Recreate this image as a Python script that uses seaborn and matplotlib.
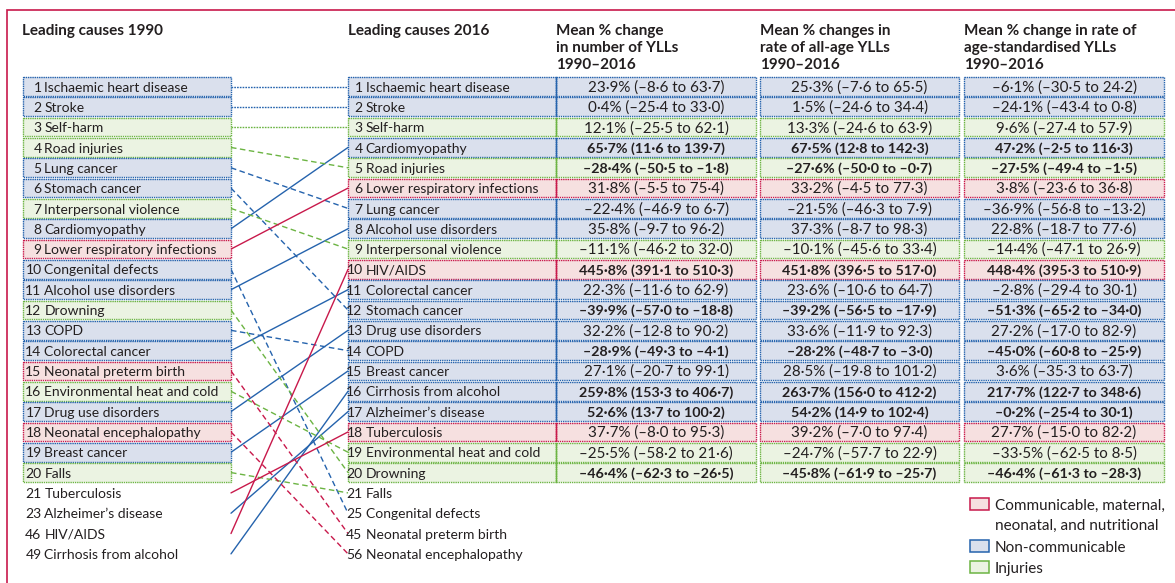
##
## Leading causes of YLLs, 1990 vs 2016, with mean % change columns
##
import numpy as np
import pandas as pd
import matplotlib.pyplot as plt
from matplotlib.patches import Rectangle
from matplotlib.lines import Line2D
from matplotlib import font_manager
import seaborn as sns

sns.set_theme(style='white')
available = {f.name for f in font_manager.fontManager.ttflist}
FONT = 'Lato' if 'Lato' in available else 'DejaVu Sans'
plt.rcParams['font.family'] = [FONT, 'DejaVu Sans']

# ---- data ----
causes_1990 = ['Ischaemic heart disease', 'Stroke', 'Self-harm', 'Road injuries', 'Lung cancer',
               'Stomach cancer', 'Interpersonal violence', 'Cardiomyopathy',
               'Lower respiratory infections', 'Congenital defects', 'Alcohol use disorders',
               'Drowning', 'COPD', 'Colorectal cancer', 'Neonatal preterm birth',
               'Environmental heat and cold', 'Drug use disorders', 'Neonatal encephalopathy',
               'Breast cancer', 'Falls', 'Tuberculosis', 'Alzheimer\u2019s disease', 'HIV/AIDS',
               'Cirrhosis from alcohol']
ranks_1990 = list(range(1, 21)) + [21, 23, 46, 49]

causes_2016 = ['Ischaemic heart disease', 'Stroke', 'Self-harm', 'Cardiomyopathy', 'Road injuries',
               'Lower respiratory infections', 'Lung cancer', 'Alcohol use disorders',
               'Interpersonal violence', 'HIV/AIDS', 'Colorectal cancer', 'Stomach cancer',
               'Drug use disorders', 'COPD', 'Breast cancer', 'Cirrhosis from alcohol',
               'Alzheimer\u2019s disease', 'Tuberculosis', 'Environmental heat and cold',
               'Drowning', 'Falls', 'Congenital defects', 'Neonatal preterm birth',
               'Neonatal encephalopathy']
ranks_2016 = list(range(1, 21)) + [21, 25, 45, 56]

communicable = ['Lower respiratory infections', 'Neonatal preterm birth',
                'Neonatal encephalopathy', 'Tuberculosis', 'HIV/AIDS']
injuries = ['Self-harm', 'Road injuries', 'Interpersonal violence', 'Drowning',
            'Environmental heat and cold', 'Falls']

# mean % change in number of YLLs (rows = 2016 top 20)
num_mean = [23.9, 0.4, 12.1, 65.7, -28.4, 31.8, -22.4, 35.8, -11.1, 445.8,
            22.3, -39.9, 32.2, -28.9, 27.1, 259.8, 52.6, 37.7, -25.5, -46.4]
num_lo = [-8.6, -25.4, -25.5, 11.6, -50.5, -5.5, -46.9, -9.7, -46.2, 391.1,
          -11.6, -57.0, -12.8, -49.3, -20.7, 153.3, 13.7, -8.0, -58.2, -62.3]
num_hi = [63.7, 33.0, 62.1, 139.7, -1.8, 75.4, 6.7, 96.2, 32.0, 510.3,
          62.9, -18.8, 90.2, -4.1, 99.1, 406.7, 100.2, 95.3, 21.6, -26.5]
num_bold = [0, 0, 0, 1, 1, 0, 0, 0, 0, 1, 0, 1, 0, 1, 0, 1, 1, 0, 0, 1]

# mean % change in rate of all-age YLLs
rate_mean = [25.3, 1.5, 13.3, 67.5, -27.6, 33.2, -21.5, 37.3, -10.1, 451.8,
             23.6, -39.2, 33.6, -28.2, 28.5, 263.7, 54.2, 39.2, -24.7, -45.8]
rate_lo = [-7.6, -24.6, -24.6, 12.8, -50.0, -4.5, -46.3, -8.7, -45.6, 396.5,
           -10.6, -56.5, -11.9, -48.7, -19.8, 156.0, 14.9, -7.0, -57.7, -61.9]
rate_hi = [65.5, 34.4, 63.9, 142.3, -0.7, 77.3, 7.9, 98.3, 33.4, 517.0,
           64.7, -17.9, 92.3, -3.0, 101.2, 412.2, 102.4, 97.4, 22.9, -25.7]
rate_bold = [0, 0, 0, 1, 1, 0, 0, 0, 0, 1, 0, 1, 0, 1, 0, 1, 1, 0, 0, 1]

# mean % change in rate of age-standardised YLLs
asr_mean = [-6.1, -24.1, 9.6, 47.2, -27.5, 3.8, -36.9, 22.8, -14.4, 448.4,
            -2.8, -51.3, 27.2, -45.0, 3.6, 217.7, -0.2, 27.7, -33.5, -46.4]
asr_lo = [-30.5, -43.4, -27.4, -2.5, -49.4, -23.6, -56.8, -18.7, -47.1, 395.3,
          -29.4, -65.2, -17.0, -60.8, -35.3, 122.7, -25.4, -15.0, -62.5, -61.3]
asr_hi = [24.2, 0.8, 57.9, 116.3, -1.5, 36.8, -13.2, 77.6, 26.9, 510.9,
          30.1, -34.0, 82.9, -25.9, 63.7, 348.6, 30.1, 82.2, 8.5, -28.3]
asr_bold = [0, 0, 0, 1, 1, 0, 0, 0, 0, 1, 0, 1, 0, 1, 0, 1, 1, 0, 0, 1]

col_titles = [['Mean % change', 'in number of YLLs', '1990\u20132016'],
              ['Mean % changes in', 'rate of all-age YLLs', '1990\u20132016'],
              ['Mean % change in rate of', 'age-standardised YLLs', '1990\u20132016']]
legend_labels = [['Communicable, maternal,', 'neonatal, and nutritional'],
                 ['Non-communicable'], ['Injuries']]

# ---- styling ----
EDGE = {'C': '#c8194b', 'N': '#2563ad', 'I': '#6cb443'}
FILL = {'C': '#f6e0e0', 'N': '#dae0ed', 'I': '#ebf3e2'}
FRAME = '#c8194b'
TXT = '#231f20'
FS = 10        # cause names
FS_VAL = 10.9  # regular values
FS_BOLD = 10.3 # bold values
FS_HEAD = 11


def grp(c):
    if c in communicable:
        return 'C'
    if c in injuries:
        return 'I'
    return 'N'


def fmt(m, lo, hi):
    s = f'{m:.1f}% ({lo:.1f} to {hi:.1f})'
    return s.replace('.', '\u00b7').replace('-', '\u2013')


# pixel layout -> row units on y
Y0, PITCH = 86.5, 20.32
def row(p):
    return (p - Y0) / PITCH


fig = plt.figure(figsize=(11.75, 5.83), dpi=100)
ax = fig.add_axes([0, 0, 1, 1])

# connectors
L_X, R_X = 231, 348
recs = []
for i, c in enumerate(causes_1990):
    j = causes_2016.index(c)
    trend = 'same' if j == i else ('up' if j < i else 'down')
    recs.append(dict(cause=c, x=L_X, y=i, group=grp(c), trend=trend))
    recs.append(dict(cause=c, x=R_X, y=j, group=grp(c), trend=trend))
links = pd.DataFrame(recs)
sns.lineplot(data=links, x='x', y='y', hue='group', style='trend', units='cause',
             estimator=None, sort=False, palette=EDGE,
             dashes={'up': '', 'down': (4, 2.5), 'same': (1.2, 0.8)},
             lw=1.0, legend=False, ax=ax)

BH = 0.92


def box(x0, x1, i, g):
    ax.add_patch(Rectangle((x0, i - BH / 2), x1 - x0, BH, facecolor=FILL[g],
                           edgecolor='none', zorder=2))
    ax.add_patch(Rectangle((x0, i - BH / 2), x1 - x0, BH, facecolor='none',
                           edgecolor=EDGE[g], lw=1.0, linestyle=(0, (1, 0.6)), zorder=3))


BASE = 0.25
# 1990 column
for i, (c, r) in enumerate(zip(causes_1990, ranks_1990)):
    if r <= 20:
        box(23, 231, i, grp(c))
    ax.text(41.5, i + BASE, str(r), ha='right', va='baseline', fontsize=FS, color=TXT, zorder=4)
    ax.text(44.5, i + BASE, c, ha='left', va='baseline', fontsize=FS, color=TXT, zorder=4)

# 2016 column + values
cols = [(num_mean, num_lo, num_hi, num_bold, 556, 756),
        (rate_mean, rate_lo, rate_hi, rate_bold, 760, 959),
        (asr_mean, asr_lo, asr_hi, asr_bold, 964, 1164)]
for i, (c, r) in enumerate(zip(causes_2016, ranks_2016)):
    g = grp(c)
    if r <= 20:
        box(348, 556, i, g)
        for mean, lo, hi, bold, x0, x1 in cols:
            box(x0, x1, i, g)
            ax.text((x0 + x1) / 2, i + BASE, fmt(mean[i], lo[i], hi[i]), ha='center',
                    va='baseline', fontsize=FS_BOLD if bold[i] else FS_VAL, color=TXT,
                    fontweight='bold' if bold[i] else 'normal', zorder=4)
        ax.plot([556, 556], [i - BH / 2, i + BH / 2], color=EDGE[g], lw=1.0, zorder=3)
    ax.text(362.5, i + BASE, str(r), ha='right', va='baseline', fontsize=FS, color=TXT, zorder=4)
    ax.text(365.5, i + BASE, c, ha='left', va='baseline', fontsize=FS, color=TXT, zorder=4)

# headers
ax.text(22, row(35), 'Leading causes 1990', fontsize=FS_HEAD, fontweight='bold', color=TXT,
        va='baseline')
ax.text(348, row(35), 'Leading causes 2016', fontsize=FS_HEAD, fontweight='bold', color=TXT,
        va='baseline')
for (_, _, _, _, x0, _), lines in zip(cols, col_titles):
    for k, line in enumerate(lines):
        ax.text(x0, row(35 + 17.2 * k), line, fontsize=FS_HEAD, fontweight='bold', color=TXT,
                va='baseline')

# legend
leg_rows = [20.55, 22.61, 23.65]
for lines, g, yy in zip(legend_labels, ['C', 'N', 'I'], leg_rows):
    ax.add_patch(Rectangle((970, yy - 0.29), 19, 0.58, facecolor=FILL[g],
                           edgecolor=EDGE[g], lw=1.1, zorder=3))
    for k, line in enumerate(lines):
        ax.text(995, yy + 0.29 + k * 0.985, line, fontsize=FS_HEAD, color=TXT, va='baseline')

# frame (figure coordinates)
W, H = 1175, 583
fig.add_artist(Line2D([7 / W, 7 / W, 1.0], [0.0, 1 - 10 / H, 1 - 10 / H],
                      transform=fig.transFigure, color=FRAME, lw=1.2,
                      solid_capstyle='butt', solid_joinstyle='miter'))

ax.set_xlim(0, W)
ax.set_ylim(row(H), row(0))
ax.axis('off')
fig.savefig('out.png', dpi=100)
